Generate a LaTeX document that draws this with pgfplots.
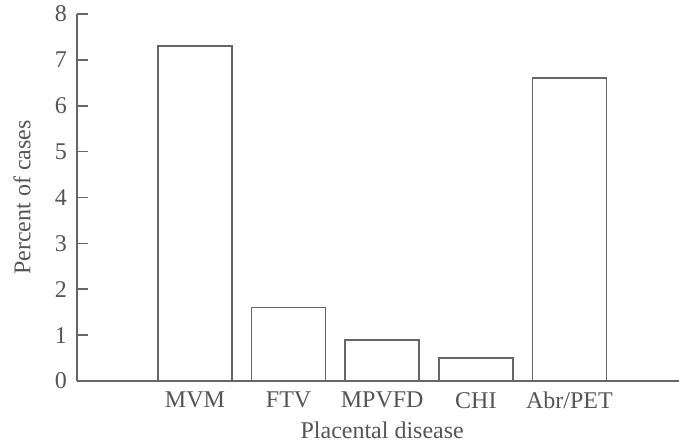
\documentclass[border=0pt]{standalone}
\usepackage{fontspec}
\setmainfont{Liberation Serif}
\usepackage{pgfplots}
\pgfplotsset{compat=1.18}
\definecolor{ln}{HTML}{666666}
\definecolor{tx}{HTML}{555555}
\begin{document}
\fontsize{24}{28}\selectfont
\begin{tikzpicture}
\begin{axis}[
  scale only axis,
  width=602pt, height=367pt,
  xmin=-1.26, xmax=5.17,
  ymin=0, ymax=8,
  axis lines*=left,
  axis line style={ln, line width=1.7pt},
  ytick={0,1,...,8},
  xtick={0,1,2,3,4},
  xticklabels={MVM,FTV,MPVFD,CHI,Abr/PET},
  major tick length=11pt,
  tick align=inside,
  x tick style={draw=none},
  y tick style={ln, line width=1.7pt},
  tick label style={tx, font=\fontsize{24}{28}\selectfont},
  /pgf/number format/assume math mode=true,
  yticklabel style={xshift=-2pt},
  xticklabel style={yshift=-3pt},
  ylabel={Percent of cases},
  xlabel={Placental disease},
  label style={tx, font=\fontsize{24}{28}\selectfont},
  ylabel style={at={(axis description cs:-0.0914,0.5)}, anchor=center, rotate=0},
  xlabel style={at={(axis description cs:0.507,-0.134)}, anchor=center},
  clip=false,
]
\addplot[ybar, bar width=74pt, draw=ln, line width=1.7pt, fill=white]
  coordinates {(0,7.3) (1,1.6) (2,0.9) (3,0.5) (4,6.6)};
\end{axis}
\pgfresetboundingbox
\path (-77pt,-65pt) rectangle (602pt,381pt);
\end{tikzpicture}
\end{document}
